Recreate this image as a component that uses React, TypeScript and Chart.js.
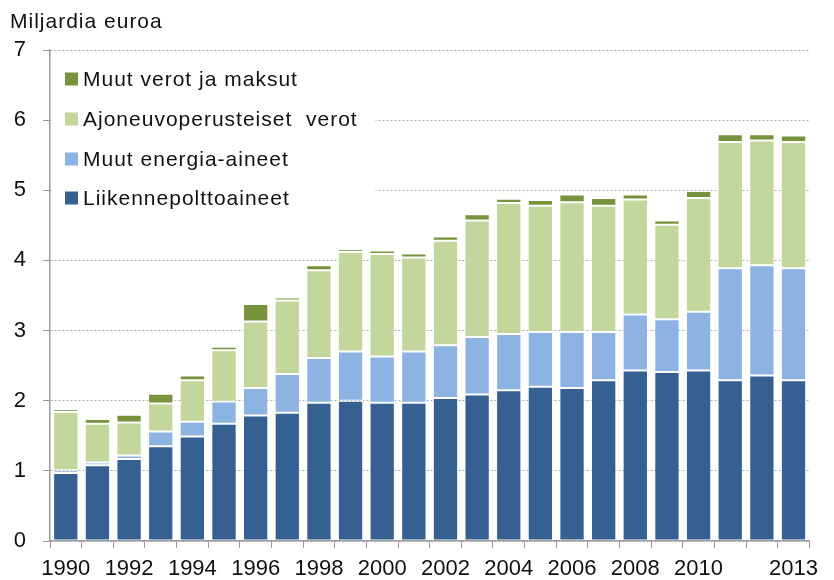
import React, { useEffect, useRef } from "react";
import { Chart, registerables } from "chart.js";

Chart.register(...registerables);

const years = [
  "1990", "1991", "1992", "1993", "1994", "1995", "1996", "1997", "1998", "1999",
  "2000", "2001", "2002", "2003", "2004", "2005", "2006", "2007", "2008", "2009",
  "2010", "2011", "2012", "2013",
];
const tickLabels = [
  "1990", "", "1992", "", "1994", "", "1996", "", "1998", "",
  "2000", "", "2002", "", "2004", "", "2006", "", "2008", "",
  "2010", "", "", "2013",
];

const liikennepolttoaineet = [
  0.97, 1.08, 1.17, 1.35, 1.49, 1.67, 1.79, 1.83, 1.97, 2.0,
  1.97, 1.97, 2.04, 2.09, 2.15, 2.2, 2.18, 2.29, 2.43, 2.41,
  2.43, 2.29, 2.36, 2.29,
];
const muutEnergiaAineet = [
  0.04, 0.04, 0.05, 0.21, 0.21, 0.32, 0.39, 0.55, 0.64, 0.7,
  0.66, 0.73, 0.75, 0.82, 0.8, 0.78, 0.8, 0.69, 0.8, 0.75,
  0.84, 1.6, 1.57, 1.6,
];
const ajoneuvoperusteisetVerot = [
  0.83, 0.55, 0.47, 0.4, 0.59, 0.73, 0.95, 1.05, 1.25, 1.42,
  1.46, 1.34, 1.49, 1.66, 1.87, 1.8, 1.85, 1.8, 1.64, 1.35,
  1.62, 1.8, 1.78, 1.8,
];
const muutVerotJaMaksut = [
  0.04, 0.07, 0.11, 0.14, 0.07, 0.05, 0.25, 0.04, 0.07, 0.04,
  0.05, 0.06, 0.06, 0.09, 0.06, 0.08, 0.11, 0.11, 0.07, 0.06,
  0.1, 0.11, 0.09, 0.09,
];

const seriesNames = [
  "Liikennepolttoaineet",
  "Muut energia-aineet",
  "Ajoneuvoperusteiset  verot",
  "Muut verot ja maksut",
];
const seriesColors = ["#376092", "#8DB3E2", "#C3D69B", "#77933C"];
const yTicks = [0, 1, 2, 3, 4, 5, 6, 7];
const yTitle = "Miljardia euroa";

const FONT = "'Liberation Sans', Arial, sans-serif";

const overlayPlugin = {
  id: "overlay",
  afterDraw(chart: any) {
    const ctx = chart.ctx as CanvasRenderingContext2D;
    const area = chart.chartArea;
    ctx.save();
    // title
    ctx.fillStyle = "#111";
    ctx.font = `21px ${FONT}`;
    (ctx as any).letterSpacing = "1px";
    ctx.textBaseline = "alphabetic";
    ctx.textAlign = "left";
    ctx.fillText(yTitle, 2, 20);
    // legend box
    ctx.fillStyle = "#ffffff";
    ctx.fillRect(area.left + 1.5, 52, 324, 155);
    const centers = [71, 111, 151, 190];
    const order = [3, 2, 1, 0];
    order.forEach((di, i) => {
      const cy = centers[i];
      ctx.fillStyle = seriesColors[di];
      ctx.fillRect(57, cy - 6.5, 13, 13);
      ctx.fillStyle = "#111";
      ctx.textBaseline = "middle";
      ctx.fillText(seriesNames[di], 75, cy + 1);
    });
    ctx.restore();
  },
};

export default function App() {
  const ref = useRef<HTMLCanvasElement | null>(null);
  useEffect(() => {
    if (!ref.current) return;
    const values = [liikennepolttoaineet, muutEnergiaAineet, ajoneuvoperusteisetVerot, muutVerotJaMaksut];
    const chart = new Chart(ref.current, {
      type: "bar",
      data: {
        labels: years,
        datasets: values.map((v, i) => ({
          label: seriesNames[i],
          data: v,
          backgroundColor: seriesColors[i],
          borderColor: "rgba(255,255,255,0.5)",
          borderWidth: 1,
          borderSkipped: false,
          barPercentage: 0.8,
          categoryPercentage: 1,
        })),
      },
      options: {
        animation: false,
        responsive: true,
        maintainAspectRatio: false,
        layout: { padding: { top: 42, right: 1, left: 0, bottom: 0 } },
        plugins: {
          legend: { display: false },
          tooltip: { enabled: false },
          title: { display: false },
        },
        scales: {
          x: {
            stacked: true,
            offset: true,
            grid: {
              display: true,
              offset: true,
              drawOnChartArea: false,
              drawTicks: true,
              tickLength: 7,
              tickColor: "#999",
            },
            border: { display: true, color: "#999", width: 1.5 },
            ticks: {
              autoSkip: false,
              maxRotation: 0,
              minRotation: 0,
              padding: 8,
              color: "#111",
              font: { family: FONT, size: 22 },
              callback: (_v: any, i: number) => tickLabels[i],
            },
            afterFit: (s: any) => {
              s.height = 39;
            },
          },
          y: {
            stacked: true,
            min: yTicks[0],
            max: yTicks[yTicks.length - 1],
            ticks: {
              stepSize: 1,
              padding: 17,
              color: "#111",
              font: { family: FONT, size: 22 },
            },
            grid: {
              color: "#aaa",
              lineWidth: 1,
              tickColor: "#999",
              tickLength: 7,
              tickBorderDash: [],
            },
            border: { display: true, color: "#999", width: 1.5, dash: [2, 2] },
            afterFit: (s: any) => {
              s.width = 42;
            },
          },
        },
      },
      plugins: [overlayPlugin],
    });
    return () => chart.destroy();
  }, []);
  return (
    <div style={{ width: 818, height: 572 }}>
      <canvas ref={ref} />
    </div>
  );
}
